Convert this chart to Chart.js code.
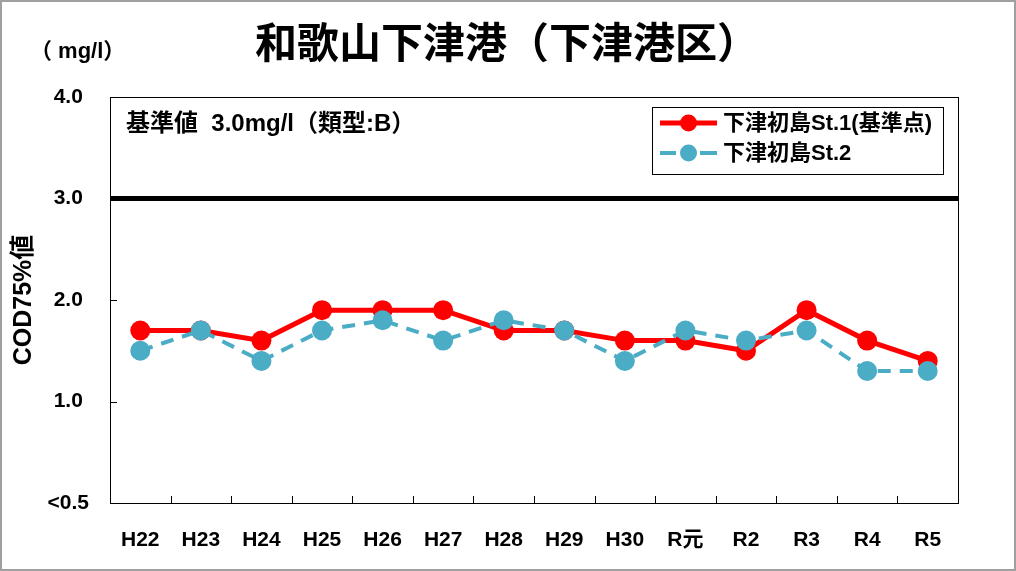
<!DOCTYPE html>
<html>
<head>
<meta charset="utf-8">
<script src="https://cdn.jsdelivr.net/npm/chart.js@4/dist/chart.umd.min.js"></script>
<style>
  body { margin: 0; background: #fff; }
  #wrap { width: 1016px; height: 571px; }
</style>
</head>
<body>
<div id="wrap"><canvas id="codChart" width="1016" height="571"></canvas></div>
<script>
const years = ['H22', 'H23', 'H24', 'H25', 'H26', 'H27', 'H28', 'H29', 'H30', 'R元', 'R2', 'R3', 'R4', 'R5'];
const st1 = [1.7, 1.7, 1.6, 1.9, 1.9, 1.9, 1.7, 1.7, 1.6, 1.6, 1.5, 1.9, 1.6, 1.4];
const st2 = [1.5, 1.7, 1.4, 1.7, 1.8, 1.6, 1.8, 1.7, 1.4, 1.7, 1.6, 1.7, 1.3, 1.3];
const yTicks = [0, 1, 2, 3, 4];
const standard = 3.0;

const FONT = "'Liberation Sans', 'Noto Sans CJK JP', sans-serif";
const RED = '#ff0000';
const BLUE = '#4bacc6';

// extra drawing: frame, title, unit, standard text, inner ticks, legend
const decor = {
  id: 'decor',
  afterDraw(chart) {
    const ctx = chart.ctx;
    const a = chart.chartArea;
    const x = chart.scales.x, y = chart.scales.y;
    ctx.save();

    // outer gray frame
    ctx.strokeStyle = '#a0a0a0';
    ctx.lineWidth = 2;
    ctx.strokeRect(1, 1, chart.width - 2, chart.height - 2);

    // plot frame
    ctx.strokeStyle = '#000';
    ctx.lineWidth = 1;
    ctx.strokeRect(Math.round(a.left) + 0.5, Math.round(a.top) + 0.5, Math.round(a.right - a.left), Math.round(a.bottom - a.top));

    // inward ticks
    ctx.beginPath();
    yTicks.forEach(v => {
      const py = Math.round(y.getPixelForValue(v)) + 0.5;
      ctx.moveTo(a.left, py); ctx.lineTo(a.left + 7, py);
    });
    for (let i = 0; i < years.length - 1; i++) {
      const px = Math.round((x.getPixelForValue(i) + x.getPixelForValue(i + 1)) / 2) + 0.5;
      ctx.moveTo(px, a.bottom); ctx.lineTo(px, a.bottom - 7);
    }
    ctx.stroke();

    // title
    ctx.fillStyle = '#000';
    ctx.textBaseline = 'middle';
    ctx.textAlign = 'center';
    ctx.font = 'bold 42px ' + FONT;
    ctx.fillText('和歌山下津港（下津港区）', 507, 46);

    // unit
    ctx.textAlign = 'left';
    ctx.font = 'bold 22px ' + FONT;
    ctx.fillText('（ mg/l）', 30, 52);

    // standard note
    ctx.font = 'bold 24px ' + FONT;
    ctx.fillText('基準値  3.0mg/l（類型:B）', 126, 124);

    // legend
    const lx = 652, ly = 107, lw = 291, lh = 67;
    ctx.fillStyle = '#fff';
    ctx.fillRect(lx, ly, lw, lh);
    ctx.strokeStyle = '#000';
    ctx.lineWidth = 1;
    ctx.strokeRect(lx + 0.5, ly + 0.5, lw, lh);
    chart.data.datasets.forEach((ds, i) => {
      const cy = 123 + i * 30;
      ctx.save();
      ctx.strokeStyle = ds.borderColor;
      ctx.lineWidth = ds.borderWidth;
      ctx.beginPath();
      if (ds.borderDash) {
        ctx.moveTo(660, cy); ctx.lineTo(676, cy);
        ctx.moveTo(700, cy); ctx.lineTo(717, cy);
      } else {
        ctx.moveTo(660, cy); ctx.lineTo(717, cy);
      }
      ctx.stroke();
      ctx.fillStyle = ds.pointBackgroundColor;
      ctx.beginPath();
      ctx.arc(688.5, cy, 8.5, 0, Math.PI * 2);
      ctx.fill();
      ctx.restore();
      ctx.fillStyle = '#000';
      ctx.font = 'bold 22px ' + FONT;
      ctx.textAlign = 'left';
      ctx.fillText(ds.label, 723, cy + 1);
    });

    ctx.restore();
  }
};

new Chart(document.getElementById('codChart'), {
  type: 'line',
  data: {
    labels: years,
    datasets: [
      {
        label: '下津初島St.1(基準点)',
        data: st1,
        borderColor: RED,
        backgroundColor: RED,
        pointBackgroundColor: RED,
        pointBorderColor: RED,
        borderWidth: 5,
        pointRadius: 10,
        pointBorderWidth: 0,
        order: 1
      },
      {
        label: '下津初島St.2',
        data: st2,
        borderColor: BLUE,
        backgroundColor: BLUE,
        pointBackgroundColor: BLUE,
        pointBorderColor: BLUE,
        borderWidth: 4,
        borderDash: [13, 9],
        pointRadius: 10,
        pointBorderWidth: 0,
        order: 0
      }
    ]
  },
  options: {
    responsive: false,
    animation: false,
    devicePixelRatio: 1,
    layout: { padding: { top: 97, right: 58, left: 0, bottom: 0 } },
    plugins: {
      legend: { display: false },
      tooltip: { enabled: false },
      title: { display: false }
    },
    scales: {
      x: {
        offset: true,
        grid: { display: false, offset: true },
        border: { display: false },
        ticks: {
          color: '#000',
          font: { family: FONT, size: 21, weight: 'bold' },
          padding: 17,
          maxRotation: 0,
          autoSkip: false
        },
        afterFit(scale) { scale.height = 68; }
      },
      y: {
        min: 0,
        max: 4,
        afterBuildTicks(scale) { scale.ticks = yTicks.map(v => ({ value: v })); },
        grid: {
          drawTicks: false,
          color: c => (c.tick && c.tick.value === standard) ? '#000' : 'rgba(0,0,0,0)',
          lineWidth: c => (c.tick && c.tick.value === standard) ? 5 : 0
        },
        border: { display: false },
        ticks: {
          color: '#000',
          font: { family: FONT, size: 21, weight: 'bold' },
          crossAlign: 'center',
          padding: 21,
          callback: v => v === 0 ? '<0.5' : v.toFixed(1)
        },
        title: {
          display: true,
          text: 'COD75%値',
          color: '#000',
          font: { family: FONT, size: 25, weight: 'bold' },
          padding: { top: 9, bottom: 0 }
        },
        afterFit(scale) { scale.width = 110; }
      }
    }
  },
  plugins: [decor]
});
</script>
</body>
</html>
